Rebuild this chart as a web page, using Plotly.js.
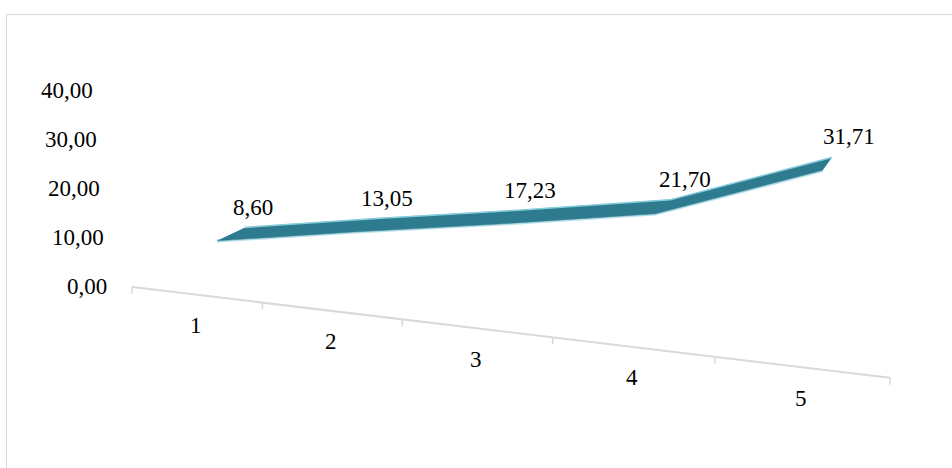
<!DOCTYPE html>
<html><head><meta charset="utf-8">
<script src="https://cdn.plot.ly/plotly-3.0.1.min.js"></script>
<style>
html,body{margin:0;padding:0;width:952px;height:468px;overflow:hidden;background:#fff;}
#chart{position:absolute;left:0;top:0;width:952px;height:468px;}
#frame{position:absolute;left:6px;top:14px;width:960px;height:470px;border:1px solid #d9d9d9;pointer-events:none;}
</style></head>
<body><div id="chart"></div><div id="frame"></div>
<script>
// ---- data ----
const categories = ['1', '2', '3', '4', '5'];
const values = [8.60, 13.05, 17.23, 21.70, 31.71];
const valueTicks = [0, 10, 20, 30, 40];

// ---- 3-D view (perspective projection of category / value / depth) ----
const view = {X0: 132, Y0: 287, Au: 126, Bu: 15.1, ku: 0.0338, Av: -0.35, Bv: -4.9};
const layers = {
  floor: {a: 0, b: 0, c: 0},
  front: {a: 22.7, b: -10.3, c: 0.01},
  back:  {a: 53.8, b: -25.4, c: -0.0235}
};
function project(u, v, L) {
  const w = 1 - view.ku * u - L.c;
  return [view.X0 + (view.Au * u + view.Av * v + L.a) / w,
          view.Y0 + (view.Bu * u + view.Bv * v + L.b) / w];
}
const fmt = v => v.toFixed(2).replace('.', ',');
const n = categories.length;
const centerU = categories.map((c, i) => i + 0.5);

const frontPts = values.map((v, i) => project(centerU[i], v, layers.front));
const backPts = values.map((v, i) => project(centerU[i], v, layers.back));
const ribbon = frontPts.concat(backPts.slice().reverse());

const floor0 = project(0, 0, layers.floor);
const floor1 = project(n, 0, layers.floor);
const tickX = [], tickY = [];
for (let u = 0; u <= n; u++) {
  const p = project(u, 0, layers.floor);
  tickX.push(p[0], p[0], null); tickY.push(p[1], p[1] + 7, null);
}

const font = 'Liberation Serif';
const fsize = 23;

const traces = [
  { // soft halo under the front edge
    x: frontPts.map(p => p[0]), y: frontPts.map(p => p[1]), mode: 'lines',
    line: {color: 'rgba(130,200,218,0.55)', width: 3.5}, hoverinfo: 'skip'
  },
  { // ribbon
    x: ribbon.map(p => p[0]), y: ribbon.map(p => p[1]), mode: 'lines',
    fill: 'toself', fillcolor: '#2E7A8E', line: {color: '#2E7A8E', width: 0.5}, hoverinfo: 'skip'
  },
  { // highlight on the back edge
    x: backPts.map(p => p[0]), y: backPts.map(p => p[1]), mode: 'lines',
    line: {color: '#86cddd', width: 1.5}, hoverinfo: 'skip'
  },
  { // category axis
    x: [floor0[0], floor1[0]], y: [floor0[1], floor1[1]], mode: 'lines',
    line: {color: '#d9d9d9', width: 2}, hoverinfo: 'skip'
  },
  { // tick marks between categories
    x: tickX, y: tickY, mode: 'lines',
    line: {color: '#d9d9d9', width: 1.5}, hoverinfo: 'skip'
  }
];

const annotations = [];
categories.forEach((c, i) => {
  const p = project(centerU[i], 0, layers.floor);
  annotations.push({x: p[0], y: p[1], text: c, showarrow: false, xanchor: 'center', yanchor: 'middle',
    yshift: -31, font: {family: font, size: fsize, color: '#000'}});
});
valueTicks.forEach(v => {
  const p = project(0, v, layers.floor);
  annotations.push({x: p[0], y: p[1], text: fmt(v), showarrow: false, xanchor: 'right', yanchor: 'middle',
    xshift: -23, yshift: 1, font: {family: font, size: fsize, color: '#000'}});
});
values.forEach((v, i) => {
  const f = frontPts[i], b = backPts[i];
  annotations.push({x: (f[0] + b[0]) / 2, y: (f[1] + b[1]) / 2, text: fmt(v), showarrow: false,
    xanchor: 'center', yanchor: 'middle', xshift: 22, yshift: 27,
    font: {family: font, size: fsize, color: '#000'}});
});

const layout = {
  width: 952, height: 468,
  margin: {l: 0, r: 0, t: 0, b: 0},
  paper_bgcolor: '#fff', plot_bgcolor: '#fff',
  showlegend: false, hovermode: false,
  xaxis: {range: [0, 952], visible: false, fixedrange: true},
  yaxis: {range: [468, 0], visible: false, fixedrange: true},
  annotations: annotations
};

Plotly.newPlot('chart', traces, layout, {displayModeBar: false, staticPlot: true});
</script>
</body></html>
